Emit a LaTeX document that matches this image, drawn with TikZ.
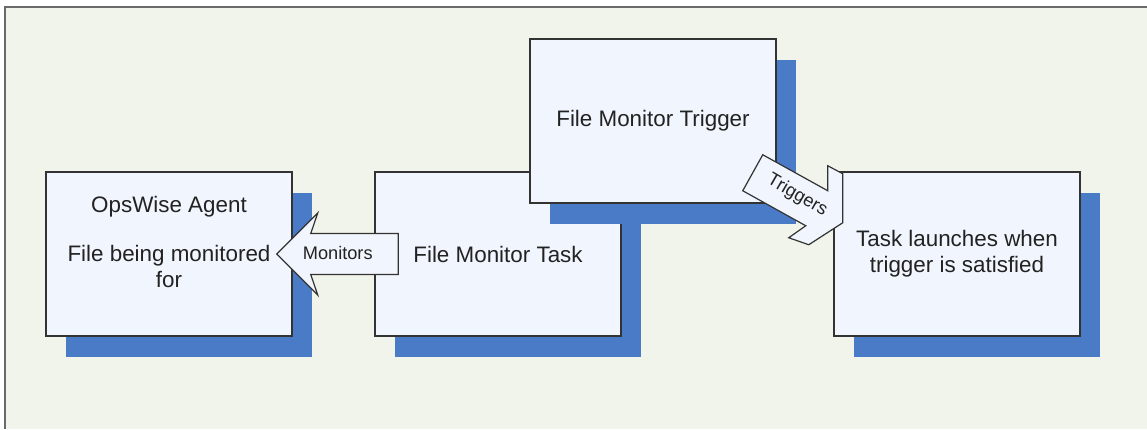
\documentclass[tikz,border=0pt]{standalone}
\usepackage{fontspec}
\setmainfont{Liberation Sans}
\usetikzlibrary{calc, shadows}
\definecolor{fmback}{HTML}{F1F4EA}
\definecolor{fmedge}{HTML}{6A6A6A}
\definecolor{fmbox}{HTML}{F1F5FD}
\definecolor{fmshadow}{HTML}{4A7BC7}
\definecolor{fmline}{HTML}{333333}
\definecolor{fmtext}{HTML}{222222}
\tikzset{
  frameline/.style  = {draw=fmedge, line width=1.25pt, line cap=butt},
  taskbox/.style    = {rectangle, draw=fmline, fill=fmbox, line width=0.75pt,
                       minimum width=123pt, minimum height=82pt, inner sep=0pt,
                       font=\fontsize{11.2}{13}\selectfont, text=fmtext,
                       align=center,
                       drop shadow={shadow xshift=10pt, shadow yshift=-10.5pt,
                                    fill=fmshadow, opacity=1}},
  boxtext/.style    = {font=\fontsize{11.2}{13}\selectfont, text=fmtext,
                       align=center, inner sep=0pt},
  blockarrow/.style = {draw=fmline, fill=fmbox, line width=0.6pt,
                       line join=miter},
  arrowtext/.style  = {font=\fontsize{9.1}{11}\selectfont, text=fmtext,
                       inner sep=0pt},
}
\begin{document}
\begin{tikzpicture}[x=0.5pt, y=-0.5pt]
  \useasboundingbox (0,0) rectangle (1147,429);
  \fill[white] (0,0) rectangle (1147,429);
  \fill[fmback] (5,7) rectangle (1147,429);
  \draw[frameline] (5,429) -- (5,7) -- (1147,7);

  \node[taskbox, label={[boxtext, yshift=6pt]center:{OpsWise Agent\\[11.5pt]
    File being monitored\\for}}] (agent) at (169,254) {};
  \node[taskbox] (task)    at (498,254) {File Monitor Task};
  \node[taskbox] (trigger) at (653,121) {File Monitor Trigger};
  \node[taskbox] (launch)  at (957,254) {Task launches when\\trigger is satisfied};

  \draw[blockarrow] ($(agent.east)+(-16,0)$) -- ($(agent.east)+(25,-41)$)
    -- ($(agent.east)+(18,-20.5)$) -- ($(task.west)+(24,-20.5)$)
    -- ($(task.west)+(24,20.5)$) -- ($(agent.east)+(18,20.5)$)
    -- ($(agent.east)+(25,41)$) -- cycle;
  \node[arrowtext] (monitors) at ($(agent.east)+(45,-1)$) {Monitors};

  \draw[blockarrow] ($(trigger.south east)+(-14,-49)$)
    -- ($(trigger.south east)+(51,-13)$) -- ($(trigger.south east)+(51,-38)$)
    -- ($(trigger.south east)+(66,-30)$) -- ($(trigger.south east)+(66,19)$)
    -- ($(trigger.south east)+(32,41)$) -- ($(trigger.south east)+(12,34)$)
    -- ($(trigger.south east)+(29,22)$) -- ($(trigger.south east)+(-34,-13)$)
    -- cycle;
  \node[arrowtext, rotate=-30] (triggers) at ($(trigger.south east)+(20.5,-8.5)$)
    {Triggers};
\end{tikzpicture}
\end{document}
